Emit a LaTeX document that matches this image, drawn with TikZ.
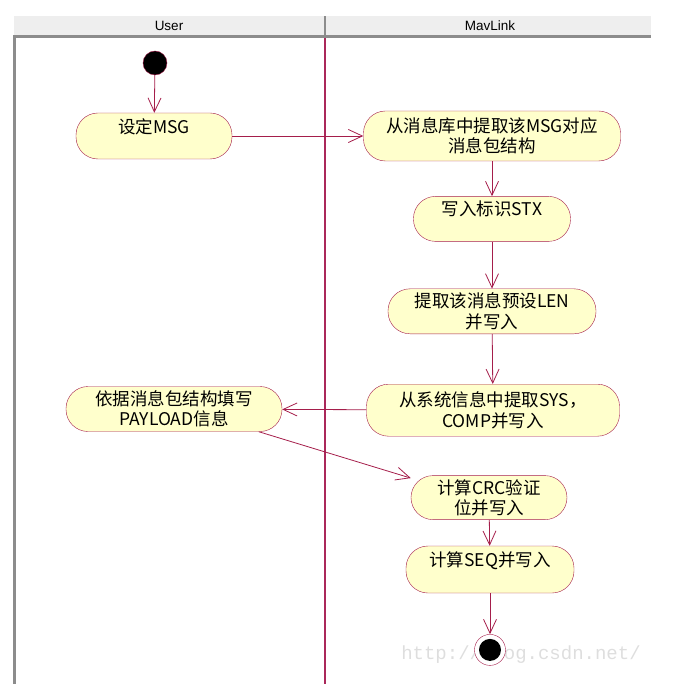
\documentclass[tikz,border=0pt]{standalone}
\usepackage{fontspec}
\setmainfont{Noto Sans CJK SC}
\newfontfamily\headfont{Liberation Sans}
\newfontfamily\markfont{Liberation Mono}
\usetikzlibrary{positioning, arrows.meta}
\definecolor{umlline}{RGB}{165, 30, 75}
\definecolor{umlfill}{RGB}{255, 255, 204}
\definecolor{lanehead}{RGB}{238, 238, 238}
\definecolor{laneedge}{RGB}{140, 140, 140}
\definecolor{lanesplit}{RGB}{170, 40, 90}
\definecolor{markgray}{RGB}{222, 222, 222}

\begin{document}
\begin{tikzpicture}[
    x=1pt, y=-1pt,
    font=\fontsize{17.5}{20.5}\selectfont,
    action/.style={rectangle, rounded corners=22pt, draw=umlline, fill=umlfill, thin, align=center, inner sep=1pt},
    startdot/.style={circle, draw=umlline, fill=black, thin, minimum size=24pt, inner sep=0pt},
    stopring/.style={circle, draw=umlline, fill=white, thin, minimum size=31pt, inner sep=0pt},
    stopdot/.style={circle, fill=black, minimum size=22pt, inner sep=0pt},
    flow/.style={-{Straight Barb[length=14pt, width=13pt]}, draw=umlline, line width=0.8pt},
    lanetitle/.style={font=\headfont\fontsize{13.5}{13.5}\selectfont}
]
    \useasboundingbox (0,0) rectangle (698,684);

    % swimlanes
    \fill[lanehead] (14,16) rectangle (651,35);
    \fill[laneedge] (14,35) rectangle (651,38.5);
    \fill[laneedge] (13,35) rectangle (15.5,684);
    \fill[laneedge] (324,16) rectangle (326,35);
    \draw[lanesplit, line width=1.3pt] (325,38.5) -- (325,684);
    \node[lanetitle] (userlane) at (169,26) {User};
    \node[lanetitle] (mavlane) at (490,26) {MavLink};

    \node[text=markgray, font=\markfont\fontsize{19}{19}\selectfont] (watermark) at (521,655) {http://blog.csdn.net/};

    % actions
    \node[startdot] (start) at (155,63) {};
    \node[action, minimum width=156pt, minimum height=46pt] (setmsg) at (154,136) {设定MSG\\\mbox{}};
    \node[action, minimum width=257pt, minimum height=50pt] (extract) at (492,136) {从消息库中提取该MSG对应\\消息包结构};
    \node[action, below=35pt of extract, minimum width=157pt, minimum height=45pt] (stx) {写入标识STX\\\mbox{}};
    \node[action, below=47pt of stx, minimum width=208pt, minimum height=45pt] (len) {提取该消息预设LEN\\并写入};
    \node[action, below=50pt of len, xshift=1pt, minimum width=253pt, minimum height=52pt] (sys) {从系统信息中提取SYS，\\COMP并写入};
    \node[action, minimum width=216pt, minimum height=45pt] (payload) at (174,409) {依据消息包结构填写\\PAYLOAD信息};
    \node[action, below=39pt of sys, xshift=-4pt, minimum width=156pt, minimum height=44pt] (crc) {计算CRC验证\\位并写入};
    \node[action, below=26pt of crc, xshift=1pt, minimum width=168pt, minimum height=47pt] (seq) {计算SEQ并写入\\\mbox{}};
    \node[stopring, below=41pt of seq] (stop) {};
    \node[stopdot] (stopcore) at (stop) {};

    % control flow
    \draw[flow] (start) -- (setmsg);
    \draw[flow] (setmsg) -- (extract);
    \draw[flow] (extract) -- (stx);
    \draw[flow] (stx) -- (len);
    \draw[flow] (len) -- (sys);
    \draw[flow] (sys) -- (payload);
    \draw[flow] (payload.-15) -- (crc.166);
    \draw[flow] (crc) -- (seq);
    \draw[flow] (seq) -- (stop);
\end{tikzpicture}
\end{document}
